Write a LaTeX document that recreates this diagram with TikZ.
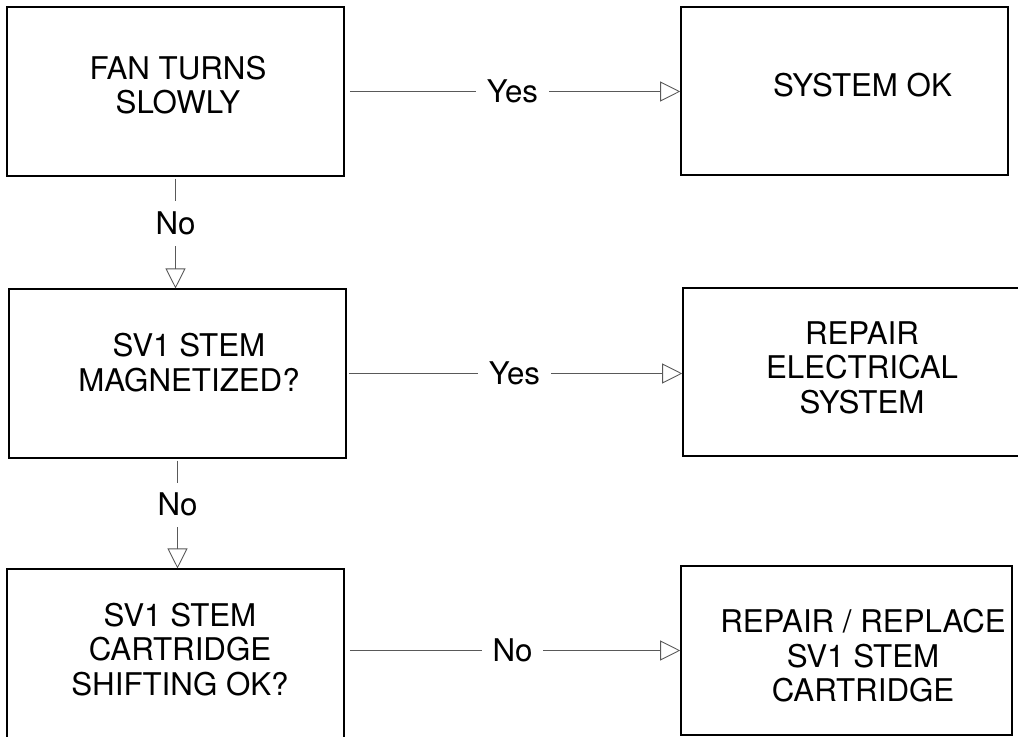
\documentclass[tikz,border=0pt]{standalone}
\usepackage{fontspec}
\setmainfont{TeX Gyre Heros}
\usetikzlibrary{arrows.meta,calc}

\begin{document}
\begin{tikzpicture}[
    box/.style={draw,line width=0.9pt,inner sep=0pt,minimum height=3.37cm,minimum width=#1},
    txt/.style={align=center,inner sep=0pt,font=\fontsize{17.8}{19.6}\selectfont},
    flow/.style={black!65,line width=0.5pt,-{Triangle[open,length=0.4cm,width=0.4cm]}},
    answer/.style={fill=white,text=black,inner sep=6pt,font=\fontsize{17.8}{19.6}\selectfont},
  ]
  \useasboundingbox (0,0) rectangle (20.36,14.72);

  % ---------------------------------------------------------------- boxes
  \node[box=6.74cm] (fan)   at (3.51,12.89) {};
  \node[box=6.54cm] (ok)    at (16.89,12.90) {};
  \node[box=6.74cm] (stem)  at (3.55,7.25) {};
  \node[box=6.74cm] (elec)  at (17.03,7.28) {};
  \node[box=6.74cm] (shift) at (3.51,1.65) {};
  \node[box=6.62cm] (repl)  at (16.93,1.71) {};

  % Box texts, set a little off the centre as in the drawing
  \node[txt] (fanT)   at ($(fan)+(0.05,0.13)$)   {FAN TURNS\\SLOWLY};
  \node[txt] (okT)    at ($(ok)+(0.36,0.11)$)    {SYSTEM OK};
  \node[txt] (stemT)  at ($(stem)+(0.23,0.22)$)  {SV1 STEM\\MAGNETIZED?};
  \node[txt] (elecT)  at ($(elec)+(0.21,0.09)$)  {REPAIR\\ELECTRICAL\\SYSTEM};
  \node[txt] (shiftT) at ($(shift)+(0.09,0.08)$) {SV1 STEM\\CARTRIDGE\\SHIFTING OK?};
  \node[txt] (replT)  at ($(repl)+(0.33,-0.11)$) {REPAIR / REPLACE\\SV1 STEM\\CARTRIDGE};

  % ---------------------------------------------------------------- answers
  \draw[flow,shorten <=0.1cm] (fan.east) -- (fan.east -| ok.west)
    node[answer,pos=0.5] {Yes};
  \draw[flow,shorten <=0.04cm] (stem.east) -- (stem.east -| elec.west)
    node[answer,pos=0.5] {Yes};
  \draw[flow,shorten <=0.1cm] (repl.west -| shift.east) -- (repl.west)
    node[answer,pos=0.5] {No};

  \draw[flow,shorten <=0.04cm] (fan.south) -- (fan.south |- stem.north)
    node[answer,pos=0.42,inner xsep=2pt] {No};
  \draw[flow,shorten <=0.04cm] (stem.south) -- (stem.south |- shift.north)
    node[answer,pos=0.42,inner xsep=2pt] {No};
\end{tikzpicture}
\end{document}
